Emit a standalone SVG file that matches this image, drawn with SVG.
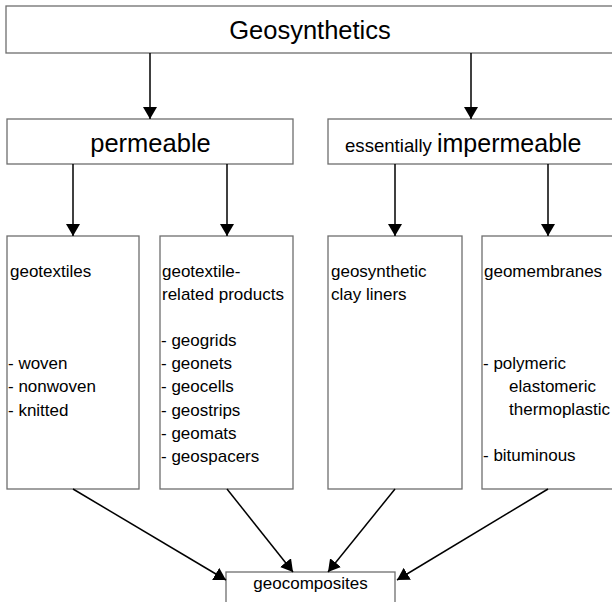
<svg xmlns="http://www.w3.org/2000/svg" width="612" height="602" viewBox="0 0 612 602">
<defs>
<marker id="ah" markerUnits="userSpaceOnUse" markerWidth="14" markerHeight="14" refX="12" refY="7" orient="auto">
<path d="M0,0 L12,7 L0,14 Z" fill="#000"/>
</marker>
<style>
.box{fill:#fff;stroke:#6e6e6e;stroke-width:1.3}
.t{font-family:"Liberation Sans",Arial,sans-serif;fill:#000}
.b{font-size:17px}
.h{font-size:25.5px}
.c line{stroke:#000;stroke-width:1.5;marker-end:url(#ah)}
</style>
</defs>
<rect width="612" height="602" fill="#fff"/>
<g id="geosynthetics">
<rect class="box" x="6" y="6" width="614" height="47"/>
<text class="t h" x="310" y="39" text-anchor="middle">Geosynthetics</text>
</g>
<g id="permeable">
<rect class="box" x="7" y="119" width="286" height="45"/>
<text class="t h" x="150.5" y="152" text-anchor="middle">permeable</text>
</g>
<g id="impermeable">
<rect class="box" x="328" y="119" width="292" height="45"/>
<text class="t" x="345" y="152"><tspan font-size="18.6px">essentially </tspan><tspan font-size="25px">impermeable</tspan></text>
</g>
<g id="geotextiles">
<rect class="box" x="7" y="236" width="132" height="253"/>
<text class="t b" x="9"><tspan x="10" y="277">geotextiles</tspan><tspan x="8" y="369">- woven</tspan><tspan x="8" y="392">- nonwoven</tspan><tspan x="8" y="415.5">- knitted</tspan></text>
</g>
<g id="related">
<rect class="box" x="160" y="236" width="133" height="253"/>
<text class="t b"><tspan x="162" y="277">geotextile-</tspan><tspan x="162" y="300">related products</tspan><tspan x="161" y="346">- geogrids</tspan><tspan x="161" y="369">- geonets</tspan><tspan x="161" y="392">- geocells</tspan><tspan x="161" y="415.5">- geostrips</tspan><tspan x="161" y="439">- geomats</tspan><tspan x="161" y="462">- geospacers</tspan></text>
</g>
<g id="gcl">
<rect class="box" x="328" y="236" width="134" height="253"/>
<text class="t b"><tspan x="331" y="277">geosynthetic</tspan><tspan x="331" y="300">clay liners</tspan></text>
</g>
<g id="geomembranes">
<rect class="box" x="482" y="236" width="138" height="253"/>
<text class="t b"><tspan x="484" y="277">geomembranes</tspan><tspan x="483" y="369">- polymeric</tspan><tspan x="509" y="392">elastomeric</tspan><tspan x="509" y="415">thermoplastic</tspan><tspan x="483" y="461">- bituminous</tspan></text>
</g>
<g id="geocomposites">
<rect class="box" x="226" y="572" width="169" height="50"/>
<text class="t b" x="310.5" y="589" text-anchor="middle">geocomposites</text>
</g>
<g class="c" id="connectors">
<line x1="150" y1="53" x2="150" y2="119"/>
<line x1="471" y1="53" x2="471" y2="119"/>
<line x1="73" y1="164" x2="73" y2="236"/>
<line x1="227" y1="164" x2="227" y2="236"/>
<line x1="395" y1="164" x2="395" y2="236"/>
<line x1="548" y1="164" x2="548" y2="236"/>
<line x1="73" y1="489" x2="226" y2="580"/>
<line x1="227" y1="489" x2="293" y2="572"/>
<line x1="395" y1="489" x2="328" y2="572"/>
<line x1="548" y1="489" x2="397" y2="580"/>
</g>
</svg>
